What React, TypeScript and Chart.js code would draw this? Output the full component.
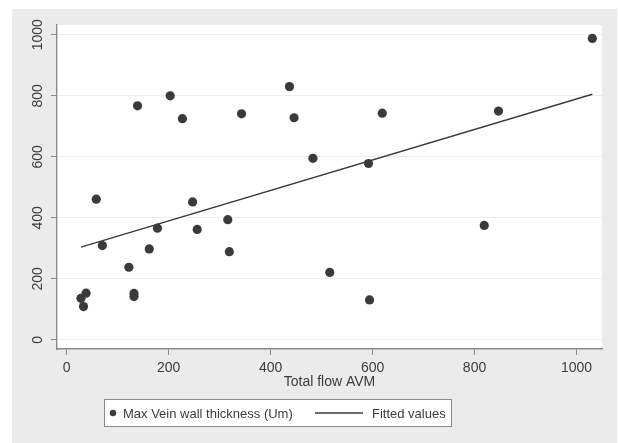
import React, { useEffect, useRef } from "react";
import { Chart, registerables } from "chart.js";

Chart.register(...registerables);

const flowX = [28, 33, 38, 58, 70, 122, 132, 132, 139, 162, 178, 203, 227, 247, 256, 316, 319, 343, 437, 446, 483, 516, 592, 594, 619, 819, 847, 1031];
const thicknessY = [136, 109, 153, 461, 309, 238, 152, 142, 767, 298, 366, 800, 725, 452, 362, 394, 289, 741, 830, 728, 595, 221, 578, 131, 743, 375, 750, 988];
const fitX = [28, 1031];
const fitY = [304, 805];
const xTicks = [0, 200, 400, 600, 800, 1000];
const yTicks = [0, 200, 400, 600, 800, 1000];
const seriesLabels = ["Max Vein wall thickness (Um)", "Fitted values"];
const xTitle = "Total flow AVM";

const FONT = "'Liberation Sans', Arial, sans-serif";
const TEXT = "#3c3c3c";
const MARK = "#3a3a3a";

const backgroundPlugin = {
  id: "bgPanels",
  beforeDraw(chart: any) {
    const { ctx, chartArea } = chart;
    ctx.save();
    ctx.fillStyle = "#ffffff";
    ctx.fillRect(0, 0, chart.width, chart.height);
    ctx.fillStyle = "#ebebeb";
    ctx.fillRect(12, 9, 605, 434);
    ctx.fillStyle = "#ffffff";
    ctx.fillRect(chartArea.left, chartArea.top, chartArea.right - chartArea.left, chartArea.bottom - chartArea.top);
    ctx.restore();
  },
};

const legendPlugin = {
  id: "boxLegend",
  afterDraw(chart: any) {
    const { ctx } = chart;
    ctx.save();
    const bx = 104, by = 399, bw = 348, bh = 28;
    ctx.fillStyle = "#ffffff";
    ctx.fillRect(bx, by, bw, bh);
    ctx.strokeStyle = "#8a8a8a";
    ctx.lineWidth = 1;
    ctx.strokeRect(bx + 0.5, by + 0.5, bw - 1, bh - 1);
    const cy = by + bh / 2;
    ctx.fillStyle = MARK;
    ctx.beginPath();
    ctx.arc(113, cy, 3.2, 0, Math.PI * 2);
    ctx.fill();
    ctx.font = `13px ${FONT}`;
    ctx.fillStyle = TEXT;
    ctx.textBaseline = "middle";
    ctx.textAlign = "left";
    ctx.fillText(seriesLabels[0], 123, cy + 1);
    ctx.strokeStyle = MARK;
    ctx.lineWidth = 1.3;
    ctx.beginPath();
    ctx.moveTo(315, cy);
    ctx.lineTo(363, cy);
    ctx.stroke();
    ctx.fillText(seriesLabels[1], 372, cy + 1);
    ctx.restore();
  },
};

export default function App() {
  const ref = useRef<HTMLCanvasElement>(null);
  useEffect(() => {
    if (!ref.current) return;
    const chart = new Chart(ref.current, {
      type: "scatter",
      data: {
        datasets: [
          {
            label: seriesLabels[0],
            data: flowX.map((x, i) => ({ x, y: thicknessY[i] })),
            backgroundColor: MARK,
            borderColor: MARK,
            pointRadius: 4.6,
            pointHoverRadius: 4.6,
            borderWidth: 0,
          },
          {
            label: seriesLabels[1],
            type: "line",
            data: fitX.map((x, i) => ({ x, y: fitY[i] })),
            borderColor: MARK,
            borderWidth: 1.4,
            pointRadius: 0,
            fill: false,
          } as any,
        ],
      },
      options: {
        animation: false,
        responsive: false,
        devicePixelRatio: 1,
        layout: { padding: { left: 0, right: 16, top: 25, bottom: 49 } },
        plugins: {
          legend: { display: false },
          tooltip: { enabled: false },
        },
        scales: {
          x: {
            type: "linear",
            min: -19,
            max: 1050,
            afterBuildTicks: (s: any) => { s.ticks = xTicks.map((v) => ({ value: v })); },
            afterFit: (s: any) => { s.height = 45; },
            ticks: {
              font: { family: FONT, size: 14 },
              color: TEXT,
              padding: 5,
              maxRotation: 0,
              includeBounds: false,
              callback: (v: any) => String(v),
            },
            grid: { drawOnChartArea: false, drawTicks: true, tickLength: 6, color: "#8a8a8a", tickColor: "#8a8a8a" },
            border: { color: "#8a8a8a", width: 1.4 },
            title: {
              display: true,
              text: xTitle,
              font: { family: FONT, size: 14 },
              color: TEXT,
              padding: { top: 0, bottom: 3 },
            },
          },
          y: {
            type: "linear",
            min: -30,
            max: 1032,
            afterBuildTicks: (s: any) => { s.ticks = yTicks.map((v) => ({ value: v })); },
            afterFit: (s: any) => { s.width = 57; },
            ticks: {
              font: { family: FONT, size: 14 },
              color: TEXT,
              minRotation: 90,
              maxRotation: 90,
              crossAlign: "center",
              padding: -3,
              includeBounds: false,
              callback: (v: any) => String(v),
            },
            grid: { drawTicks: true, tickLength: 6, color: "#ececec", tickColor: "#8a8a8a", lineWidth: 1 },
            border: { color: "#8a8a8a", width: 1.4 },
          },
        },
      },
      plugins: [backgroundPlugin, legendPlugin],
    });
    return () => chart.destroy();
  }, []);
  return (
    <div style={{ position: "fixed", left: 0, top: 0, width: 618, height: 443 }}>
      <canvas ref={ref} width={618} height={443} style={{ display: "block" }} />
    </div>
  );
}
